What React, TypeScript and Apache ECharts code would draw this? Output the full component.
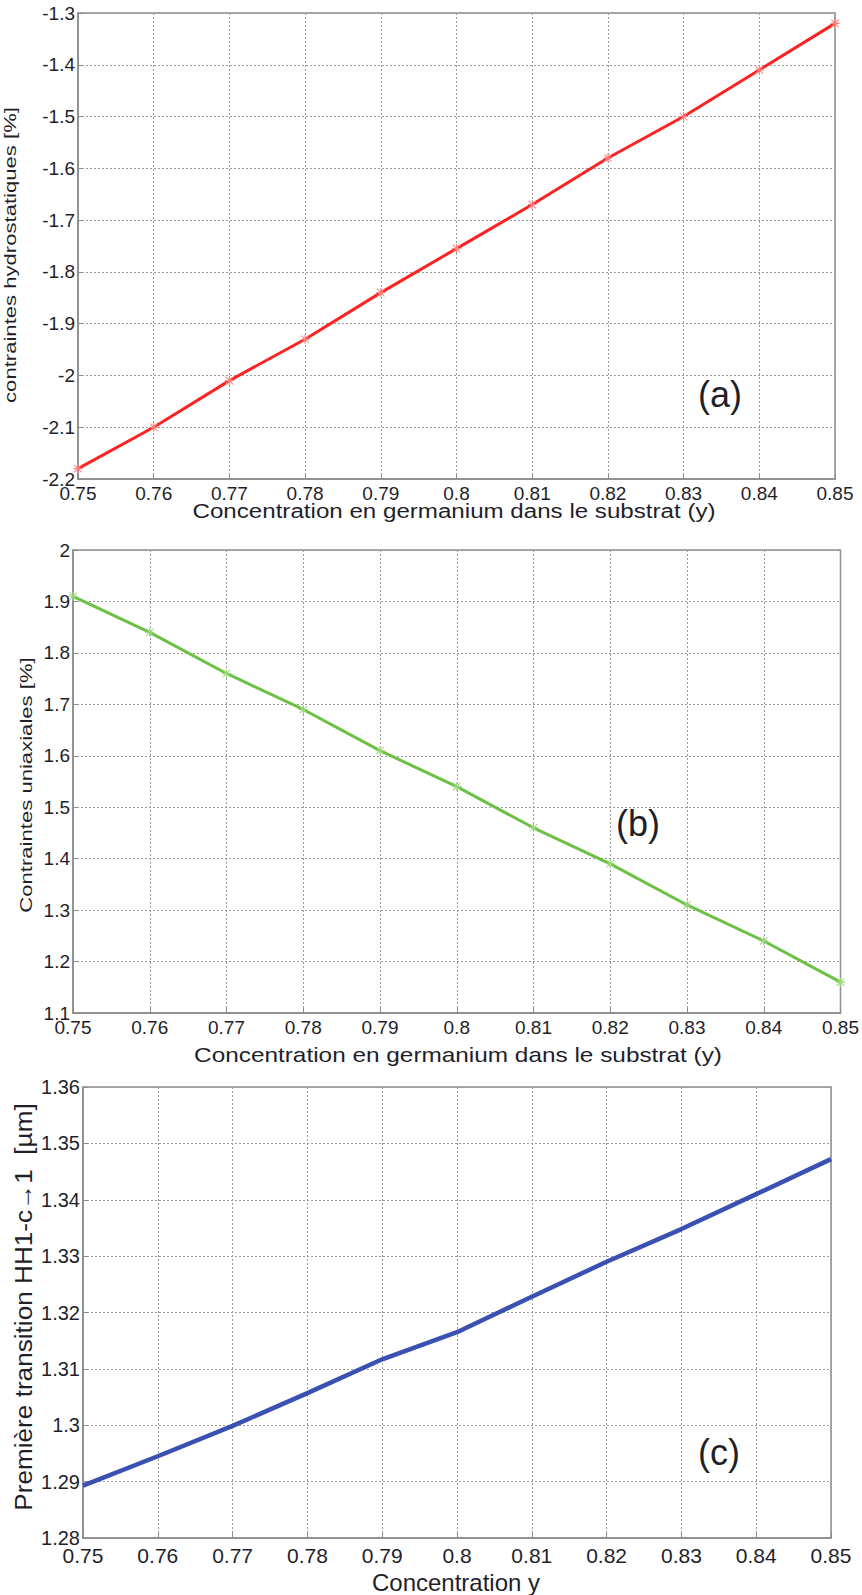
import React, { useEffect, useRef } from "react";
import * as echarts from "echarts";

const xValues = [0.75, 0.76, 0.77, 0.78, 0.79, 0.8, 0.81, 0.82, 0.83, 0.84, 0.85];
const hydroValues = [-2.18, -2.1, -2.01, -1.93, -1.84, -1.755, -1.67, -1.58, -1.5, -1.41, -1.32];
const uniaxialValues = [1.91, 1.84, 1.76, 1.69, 1.61, 1.54, 1.46, 1.39, 1.31, 1.24, 1.16];
const transitionValues = [1.2893, 1.2945, 1.2999, 1.3057, 1.3117, 1.3165, 1.3228, 1.329, 1.3348, 1.341, 1.3472];

const xTitleAB = "Concentration en germanium dans le substrat (y)";
const xTitleC = "Concentration y";
const yTitleA = "contraintes hydrostatiques [%]";
const yTitleB = "Contraintes uniaxiales [%]";
const yTitleC = "Première transition HH1-c→1  [µm]";

const FONT = "'Liberation Sans', Arial, Helvetica, sans-serif";
const TEXT = "#1f1f2a";
const FRAME = "#8c8c8c";
const STAR =
  "path://M0,4.4H10V5.6H0Z M4.4,0H5.6V10H4.4Z M1.3,0.5L9.5,8.7L8.7,9.5L0.5,1.3Z M8.7,0.5L9.5,1.3L1.3,9.5L0.5,8.7Z";

const fmt = (v: number) => String(Number(v.toFixed(4)));

function pairs(ys: number[]) {
  return xValues.map((x, i) => [x, ys[i]]);
}

function xAxis(grid: number, fontSize: number, margin: number) {
  return {
    type: "value",
    gridIndex: grid,
    min: 0.75,
    max: 0.85,
    interval: 0.01,
    axisLine: { show: true, onZero: false, lineStyle: { color: FRAME, width: 1.5 } },
    axisTick: { show: true, inside: true, length: 5, lineStyle: { color: FRAME } },
    axisLabel: { color: TEXT, fontSize, fontFamily: FONT, margin, formatter: fmt, showMinLabel: true, showMaxLabel: true },
    splitLine: { show: true, lineStyle: { color: "#9a9a9a", type: [2, 2], width: 1 } },
  };
}

function yAxis(grid: number, min: number, max: number, interval: number, fontSize: number, margin: number) {
  return {
    type: "value",
    gridIndex: grid,
    min,
    max,
    interval,
    axisLine: { show: true, onZero: false, lineStyle: { color: FRAME, width: 1.5 } },
    axisTick: { show: true, inside: true, length: 5, lineStyle: { color: FRAME } },
    axisLabel: { color: TEXT, fontSize, fontFamily: FONT, margin, formatter: fmt, showMinLabel: true, showMaxLabel: true },
    splitLine: { show: true, lineStyle: { color: "#9a9a9a", type: [2, 2], width: 1 } },
  };
}

function txt(text: string, x: number, y: number, fontSize: number, scaleX: number, rotation = 0) {
  return {
    type: "text",
    x,
    y,
    rotation,
    scaleX,
    silent: true,
    style: {
      text,
      fontSize,
      fontFamily: FONT,
      fill: TEXT,
      align: "center",
      verticalAlign: "middle",
      textAlign: "center",
      textVerticalAlign: "middle",
    },
  };
}

export default function App() {
  const ref = useRef<HTMLDivElement>(null);
  useEffect(() => {
    if (!ref.current) return;
    const chart = echarts.init(ref.current, null, { renderer: "svg" });
    const gridBase = { show: true, borderColor: FRAME, borderWidth: 1.5, backgroundColor: "#ffffff" };
    chart.setOption({
      animation: false,
      backgroundColor: "#ffffff",
      grid: [
        { ...gridBase, left: 78, top: 13, width: 757, height: 466 },
        { ...gridBase, left: 73, top: 550, width: 768, height: 463 },
        { ...gridBase, left: 83, top: 1087, width: 748, height: 451 },
      ],
      xAxis: [xAxis(0, 19, 5), xAxis(1, 19, 5), xAxis(2, 21, 7)],
      yAxis: [
        yAxis(0, -2.2, -1.3, 0.1, 19, 3),
        yAxis(1, 1.1, 2, 0.1, 19, 3),
        yAxis(2, 1.28, 1.36, 0.01, 20, 3),
      ],
      series: [
        {
          type: "line",
          xAxisIndex: 0,
          yAxisIndex: 0,
          data: pairs(hydroValues),
          lineStyle: { color: "#ff2222", width: 3 },
          symbol: STAR,
          symbolSize: 9,
          itemStyle: { color: "#ff8080" },
          z: 3,
        },
        {
          type: "line",
          xAxisIndex: 1,
          yAxisIndex: 1,
          data: pairs(uniaxialValues),
          lineStyle: { color: "#6cc044", width: 3 },
          symbol: STAR,
          symbolSize: 9,
          itemStyle: { color: "#9ad67a" },
          z: 3,
        },
        {
          type: "line",
          xAxisIndex: 2,
          yAxisIndex: 2,
          data: pairs(transitionValues),
          lineStyle: { color: "#3a50b2", width: 4.5 },
          symbol: "none",
          z: 3,
        },
      ],
      graphic: [
        txt(xTitleAB, 454, 511, 21, 1.15),
        txt(xTitleAB, 458, 1055, 21, 1.16),
        txt(xTitleC, 456, 1582, 24, 1.0),
        txt(yTitleA, 10, 255, 17, 1.3, Math.PI / 2),
        txt(yTitleB, 26, 785, 17, 1.3, Math.PI / 2),
        txt(yTitleC, 23, 1307, 24, 1.09, Math.PI / 2),
        txt("(a)", 720, 394, 36, 1.0),
        txt("(b)", 638, 823, 36, 1.0),
        txt("(c)", 719, 1452, 36, 1.0),
      ],
    });
    return () => chart.dispose();
  }, []);
  return (
    <div
      ref={ref}
      style={{ position: "absolute", left: 0, top: 0, width: 862, height: 1595, background: "#fff" }}
    />
  );
}
